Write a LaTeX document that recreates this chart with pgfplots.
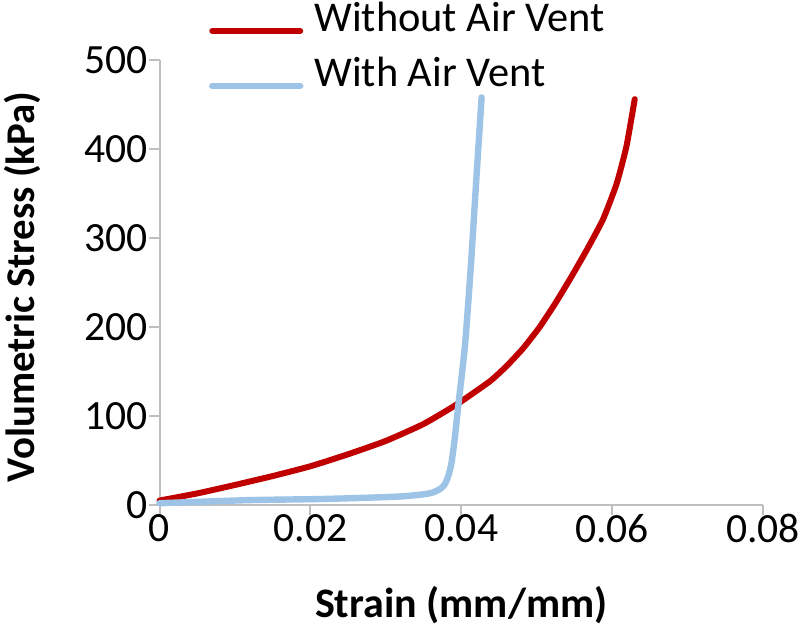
\documentclass[border=0pt]{standalone}
\usepackage{fontspec}
\setmainfont{Carlito}
\usepackage{pgfplots}
\pgfplotsset{compat=1.18}
\definecolor{redline}{HTML}{C00000}
\definecolor{blueline}{HTML}{9DC3E6}
\definecolor{axgray}{HTML}{BFBFBF}
\begin{document}
\fontsize{20.5pt}{24pt}\selectfont
\begin{tikzpicture}
\useasboundingbox (0,0) rectangle (400pt,318pt);
\begin{axis}[
  at={(79.75pt,65.5pt)}, anchor=south west,
  scale only axis, width=301.75pt, height=222.5pt,
  xmin=0, xmax=0.08, ymin=0, ymax=500,
  clip=false,
  scaled x ticks=false, scaled y ticks=false,
  axis x line*=bottom, axis y line*=left,
  axis line style={axgray, line width=1pt},
  tick style={axgray, line width=1pt},
  major tick length=5pt, tick align=outside,
  xtick={0,0.02,0.04,0.06,0.08},
  xticklabels={0,0.02,0.04,0.06,0.08},
  ytick={0,100,200,300,400,500},
  yticklabels={0,100,200,300,400,500},
  xticklabel style={inner sep=0pt, anchor=north, yshift=0.5pt, font=\fontsize{20.8pt}{24pt}\selectfont},
  yticklabel style={inner sep=0pt, anchor=east, xshift=-0.75pt, font=\fontsize{20.8pt}{24pt}\selectfont},
  /pgf/number format/assume math mode=true,
  xlabel={\textbf{Strain (mm/mm)}},
  ylabel={\textbf{Volumetric Stress (kPa)}},
  xlabel style={at={(axis description cs:0.5,-0.2247)}, anchor=center, inner sep=0pt, font=\fontsize{21pt}{24pt}\selectfont},
  ylabel style={at={(axis description cs:-0.2278,0.49)}, anchor=center, inner sep=0pt, font=\fontsize{20.4pt}{24pt}\selectfont},
  legend style={at={(axis description cs:0.0821,1.128)}, anchor=north west,
    draw=none, fill=none, inner sep=0pt, outer sep=0pt,
    row sep=9.5pt, column sep=5.5pt,
    font=\fontsize{21.2pt}{24pt}\selectfont,
    nodes={inner sep=0pt, text height=14pt, text depth=4pt, anchor=base west}},
  legend cell align=left,
  legend image code/.code={\draw[#1, line cap=round] (0pt,0pt) -- (44pt,0pt);},
  every axis plot/.append style={line join=round, line cap=round},
]
\addplot[redline, line width=3pt, smooth, tension=0.3] coordinates {
(0,5) (0.005,13) (0.01,22.5) (0.015,32.5) (0.02,43.5) (0.025,57) (0.03,72)
(0.035,91) (0.0394,113) (0.0438,139) (0.046,156) (0.0482,176) (0.0504,200)
(0.0525,227) (0.0545,255) (0.0566,286) (0.0588,321) (0.0606,361)
(0.0619,403) (0.063,456)
};
\addlegendentry{Without Air Vent}
\addplot[blueline, line width=3.2pt, smooth, tension=0.4] coordinates {
(0,2) (0.005,3.5) (0.012,5.5) (0.02,6.5) (0.025,7.5) (0.0318,9.5) (0.035,12)
(0.0362,14) (0.0372,18) (0.0378,23) (0.0383,33) (0.0387,47) (0.0391,72)
(0.0396,111) (0.0405,180) (0.0413,272) (0.042,366) (0.0427,458)
};
\addlegendentry{With Air Vent}
\end{axis}
\end{tikzpicture}
\end{document}
